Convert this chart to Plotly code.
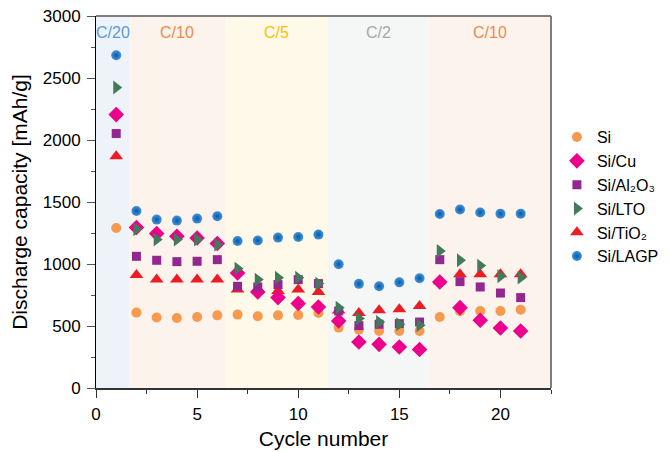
import plotly.graph_objects as go

cycles = list(range(1, 22))

si = [1290, 608, 568, 565, 573, 586, 592, 578, 586, 589, 605, 487, 471, 460, 460, 460, 573, 619, 621, 621, 632]
si_cu = [2205, 1294, 1245, 1223, 1210, 1165, 927, 774, 729, 681, 653, 540, 371, 352, 331, 310, 855, 648, 546, 484, 460]
si_al2o3 = [2052, 1062, 1030, 1019, 1022, 1035, 820, 815, 834, 874, 842, 621, 503, 514, 519, 532, 1035, 858, 815, 766, 729]
si_lto = [2423, 1280, 1197, 1197, 1197, 1156, 963, 874, 890, 890, 842, 648, 560, 532, 514, 506, 1105, 1030, 987, 901, 890]
si_tio2 = [1869, 911, 874, 874, 874, 874, 794, 800, 782, 794, 774, 625, 605, 627, 635, 661, 860, 917, 917, 917, 917]
si_lagp = [2683, 1427, 1358, 1350, 1366, 1385, 1185, 1189, 1213, 1218, 1237, 998, 840, 820, 852, 885, 1403, 1439, 1415, 1406, 1406]

band_labels = ["C/20", "C/10", "C/5", "C/2", "C/10"]
band_edges = [0, 1.65, 6.4, 11.45, 16.45, 22.5]
band_fill = ["#EEF3F9", "#FCF3EC", "#FEF9E9", "#F5F7F7", "#FCF3EC"]
band_text = ["#5B9BD5", "#F08A4B", "#FFC000", "#A6A6A6", "#F08A4B"]

fig = go.Figure()

# draw order: Si, TiO2, Cu, Al2O3, LTO, LAGP ; legend order via legendrank
series = [
    ("Si", si, "circle", "#F79A4E", 10, 1),
    ("Si/TiO₂", si_tio2, "triangle-up", "#ED1C24", 12, 5),
    ("Si/Cu", si_cu, "diamond", "#EC008C", 12, 2),
    ("Si/Al₂O₃", si_al2o3, "square", "#92278F", 9, 3),
    ("Si/LTO", si_lto, "triangle-right", "#437A5A", 12, 4),
]
for name, vals, sym, col, size, rank in series:
    fig.add_trace(go.Scatter(
        x=cycles, y=vals, mode="markers", name=name, legendrank=rank,
        marker=dict(symbol=sym, color=col, size=size, line=dict(width=0)),
    ))

fig.add_trace(go.Scatter(
    x=cycles, y=si_lagp, mode="markers", name="Si/LAGP", legendrank=6,
    marker=dict(symbol="circle", color="#4A92D4", size=10, line=dict(width=0),
                gradient=dict(type="radial", color="#005CAE")),
))

shapes = []
annotations = []
for i, lab in enumerate(band_labels):
    x0, x1 = band_edges[i], band_edges[i + 1]
    shapes.append(dict(type="rect", xref="x", yref="y", x0=x0, x1=x1, y0=0, y1=3000,
                       fillcolor=band_fill[i], line=dict(width=0), layer="below"))
    annotations.append(dict(x=(x0 + x1) / 2, y=2870, xref="x", yref="y", text=lab,
                            showarrow=False, font=dict(size=16, color=band_text[i])))

# gray top/right frame
shapes.append(dict(type="line", xref="paper", yref="paper", x0=0, x1=1, y0=1, y1=1,
                   line=dict(color="#7F7F7F", width=2)))
shapes.append(dict(type="line", xref="paper", yref="paper", x0=1, x1=1, y0=0, y1=1,
                   line=dict(color="#7F7F7F", width=2)))

fig.update_layout(
    width=662, height=444,
    margin=dict(l=88, r=119, t=8, b=64, autoexpand=False),
    paper_bgcolor="white", plot_bgcolor="white",
    font=dict(family="Liberation Sans, Arial, sans-serif", size=17, color="black"),
    shapes=shapes, annotations=annotations,
    showlegend=True,
    legend=dict(x=1.013, y=0.72, xanchor="left", yanchor="top",
                font=dict(size=16), bgcolor="rgba(0,0,0,0)", tracegroupgap=0,
                itemwidth=30),
)
fig.update_xaxes(
    range=[0, 22.5], tickvals=[0, 5, 10, 15, 20], showgrid=False, zeroline=False,
    showline=True, linecolor="#333333", linewidth=1.5, automargin=False,
    ticks="outside", ticklen=8, tickcolor="#333333", ticklabelstandoff=2,
    ticklabeloverflow="allow",
    minor=dict(tickvals=[2.5, 7.5, 12.5, 17.5, 22.5], ticks="outside", ticklen=4, tickcolor="#333333"),
    title=dict(text="Cycle number", font=dict(size=21), standoff=8),
    tickfont=dict(size=17),
)
fig.update_yaxes(
    range=[0, 3000], tickvals=[0, 500, 1000, 1500, 2000, 2500, 3000], showgrid=False, zeroline=False,
    showline=True, linecolor="black", linewidth=1, automargin=False,
    ticks="outside", ticklen=8, tickcolor="#555555", ticklabelstandoff=3,
    ticklabeloverflow="allow",
    minor=dict(tickvals=[250, 750, 1250, 1750, 2250, 2750], ticks="outside", ticklen=4, tickcolor="#555555"),
    title=dict(text="Discharge capacity [mAh/g]", font=dict(size=21), standoff=12),
    tickfont=dict(size=17),
)

fig.write_html("out.html")
